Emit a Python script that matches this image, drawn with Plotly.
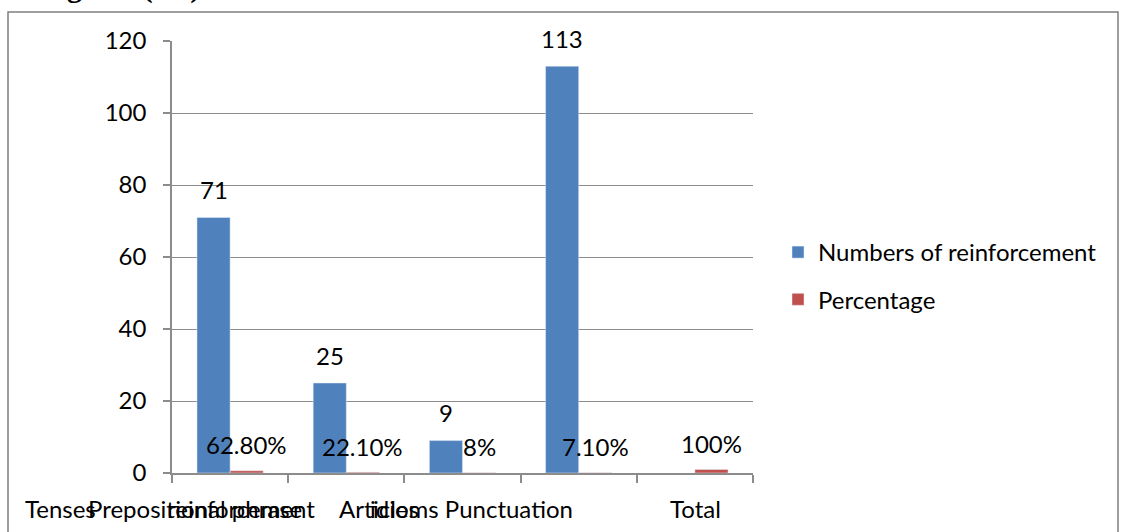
import plotly.graph_objects as go

# Chart data
categories = ["Tenses", "Prepositional phrase", "Articles", "Punctuation", "Total"]
reinforcement_counts = [71, 25, 9, 113, None]
percentages = [0.628, 0.221, 0.08, 0.071, 1.0]
percentage_labels = ["62.80%", "22.10%", "8%", "7.10%", "100%"]
y_ticks = [0, 20, 40, 60, 80, 100, 120]

# Category captions as they are laid out under the axis
axis_captions = ["Tenses", "Prepositional phrase", "reinforcement", "Articles",
                 "idioms Punctuation", "Total"]
caption_left_px = [23, 86, 165, 337, 368, 668]

BLUE = "#4F81BD"
RED = "#C0504D"
GRID = "#8C8C8C"
FONT = "Lato"
FS = 24

W, H = 1123, 532
plot_l, plot_r, plot_t, plot_b = 172, 753, 41, 473
plot_w = plot_r - plot_l
plot_h = plot_b - plot_t
bargap = 0.43
cat_px = plot_w / len(categories)
bar_shift = (1 - bargap) * cat_px / 4


def px_to_paper_x(px):
    return (px - plot_l) / plot_w


def px_to_paper_y(py):
    return (plot_b - py) / plot_h


fig = go.Figure()
fig.add_trace(go.Bar(x=categories, y=reinforcement_counts,
                     name="Numbers of reinforcement", marker_color=BLUE,
                     legendgroup="a"))
fig.add_trace(go.Bar(x=categories, y=percentages, name="Percentage",
                     marker_color=RED, legendgroup="b"))

annotations = []
# value labels above the bars
for cat, v in zip(categories, reinforcement_counts):
    if v is None:
        continue
    annotations.append(dict(x=cat, y=v, xref="x", yref="y", text=str(v),
                            showarrow=False, xshift=-bar_shift, yshift=28,
                            yanchor="middle",
                            font=dict(family=FONT, size=FS, color="black")))
for cat, v, lab in zip(categories, percentages, percentage_labels):
    annotations.append(dict(x=cat, y=v, xref="x", yref="y", text=lab,
                            showarrow=False, xshift=bar_shift, yshift=26,
                            yanchor="middle",
                            font=dict(family=FONT, size=FS, color="black")))
# captions under the axis
for cap, left in zip(axis_captions, caption_left_px):
    annotations.append(dict(x=px_to_paper_x(left), y=px_to_paper_y(509),
                            xref="paper", yref="paper", text=cap,
                            showarrow=False, xanchor="left", yanchor="middle",
                            font=dict(family=FONT, size=FS, color="black")))
# heading above the chart frame
annotations.append(dict(x=px_to_paper_x(20), y=px_to_paper_y(6),
                        xref="paper", yref="paper", text="<b>Diagram (4.1)</b>",
                        showarrow=False, xanchor="left", yanchor="bottom",
                        font=dict(family="Liberation Serif", size=30,
                                  color="black")))

shapes = [dict(type="rect", xref="paper", yref="paper",
               x0=px_to_paper_x(8), x1=px_to_paper_x(1118),
               y0=px_to_paper_y(560), y1=px_to_paper_y(12),
               line=dict(color="#7F7F7F", width=1.5), fillcolor="rgba(0,0,0,0)",
               layer="below")]

fig.update_layout(
    width=W, height=H,
    margin=dict(l=plot_l, r=W - plot_r, t=plot_t, b=H - plot_b, pad=0),
    paper_bgcolor="white", plot_bgcolor="white",
    barmode="group", bargap=bargap, bargroupgap=0,
    font=dict(family=FONT, size=FS, color="black"),
    showlegend=True,
    legend=dict(x=px_to_paper_x(778), y=px_to_paper_y(230),
                xanchor="left", yanchor="top",
                font=dict(family=FONT, size=FS, color="black"),
                tracegroupgap=13, itemwidth=30,
                bgcolor="rgba(0,0,0,0)"),
    annotations=annotations,
    shapes=shapes,
)
fig.update_xaxes(type="category", range=[-0.5, len(categories) - 0.5],
                 showticklabels=False, showline=True, linecolor=GRID,
                 linewidth=1.5, ticks="outside", tickson="boundaries",
                 ticklen=8, tickcolor=GRID, tickwidth=1.5, showgrid=False,
                 zeroline=False)
fig.update_yaxes(range=[0, 120], tickvals=y_ticks, showline=True,
                 linecolor=GRID, linewidth=1.5, ticks="outside", ticklen=7,
                 tickcolor=GRID, tickwidth=1.5, showgrid=True, gridcolor=GRID,
                 gridwidth=1.2, zeroline=False, ticklabelstandoff=12,
                 tickfont=dict(family=FONT, size=FS, color="black"))

fig.write_html("out.html")
